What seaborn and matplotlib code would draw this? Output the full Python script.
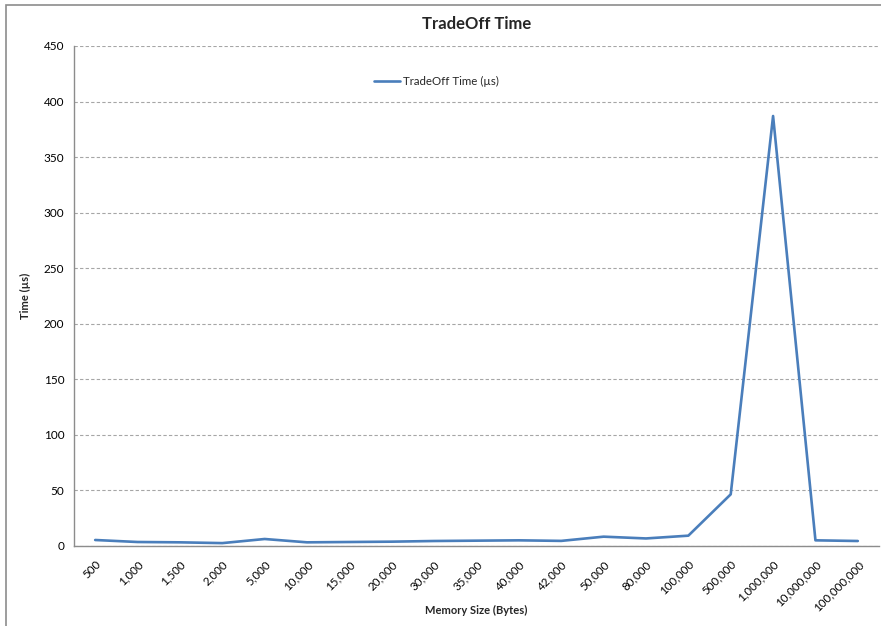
import matplotlib
matplotlib.use("Agg")
import matplotlib.pyplot as plt
import seaborn as sns
import pandas as pd
from matplotlib.patches import Rectangle

# Memory sizes tested (bytes) and measured trade-off time (µs)
memory_sizes = ["500", "1,000", "1,500", "2,000", "5,000", "10,000", "15,000",
                "20,000", "30,000", "35,000", "40,000", "42,000", "50,000",
                "80,000", "100,000", "500,000", "1,000,000", "10,000,000",
                "100,000,000"]
tradeoff_us = [5.4, 3.6, 3.3, 2.6, 6.3, 3.3, 3.6, 3.9, 4.5, 4.8, 5.1, 4.6,
               8.4, 6.8, 9.3, 46.5, 387.0, 5.1, 4.5]
y_ticks = list(range(0, 451, 50))

df = pd.DataFrame({"Memory Size (Bytes)": memory_sizes,
                   "TradeOff Time (µs)": tradeoff_us})

sns.set_theme(style="white")
plt.rcParams["font.family"] = ["Lato", "DejaVu Sans"]

fig = plt.figure(figsize=(8.81, 6.26), dpi=100)
ax = fig.add_axes([74 / 881, 80 / 626, 805 / 881, 500 / 626])

# outer chart frame
fig.patches.append(Rectangle((6 / 881, -0.05), 1.2, (626 - 5) / 626 + 0.05,
                             transform=fig.transFigure, fill=False,
                             edgecolor="#8c8c8c", linewidth=1.2))

sns.lineplot(data=df, x="Memory Size (Bytes)", y="TradeOff Time (µs)",
             ax=ax, color="#4A7EBB", linewidth=1.9, sort=False,
             label="TradeOff Time (µs)")

ax.set_xlim(-0.5, len(memory_sizes) - 0.5)
ax.set_ylim(0, 450)
ax.set_yticks(y_ticks)
ax.set_yticklabels([str(v) for v in y_ticks], fontsize=8.5)
ax.set_xticks(range(len(memory_sizes)))
ax.set_xticklabels(memory_sizes, rotation=45, ha="right",
                   rotation_mode="anchor", fontsize=8.3)
ax.tick_params(axis="both", length=0, pad=7, colors="black")
ax.tick_params(axis="x", pad=9)

ax.yaxis.grid(True, linestyle=(0, (3, 2)), color="#a6a6a6", linewidth=0.8)
ax.xaxis.grid(False)
for side in ("top", "right"):
    ax.spines[side].set_visible(False)
for side in ("left", "bottom"):
    ax.spines[side].set_color("#8c8c8c")
    ax.spines[side].set_linewidth(1.0)

ax.set_title("TradeOff Time", fontsize=12, fontweight="bold", pad=12)
ax.set_xlabel("Memory Size (Bytes)", fontsize=8, fontweight="bold")
ax.xaxis.set_label_coords(0.5, -0.117)
ax.set_ylabel("Time (µs)", fontsize=8, fontweight="bold", labelpad=9)

ax.legend(loc="upper left", bbox_to_anchor=(0.36, 0.96), frameon=False,
          fontsize=8.3, handlelength=2.2, handletextpad=0.3)

fig.savefig("out.png", dpi=100)
